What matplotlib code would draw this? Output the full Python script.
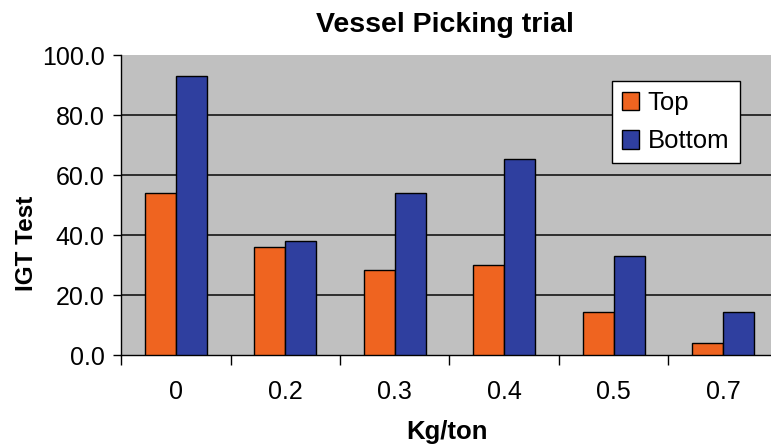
import numpy as np
import matplotlib
matplotlib.use("Agg")
import matplotlib.pyplot as plt
from matplotlib.ticker import FixedLocator

plt.rcParams['font.family'] = ['Liberation Sans', 'DejaVu Sans']

# data
kategori = ['0', '0.2', '0.3', '0.4', '0.5', '0.7']
top = [54.0, 36.0, 28.5, 30.0, 14.5, 4.0]
bottom = [93.0, 38.0, 54.0, 65.5, 33.0, 14.5]
seri = ['Top', 'Bottom']
warna = ['#EF6420', '#2F3F9F']

fig = plt.figure(figsize=(7.71, 4.45), dpi=100)
ax = fig.add_axes([0.157, 0.202, 0.852, 0.674])
ax.set_facecolor('#C0C0C0')

x = np.arange(len(kategori))
lebar = 0.285
ax.bar(x - lebar / 2, top, lebar, color=warna[0], edgecolor='black', linewidth=1, label=seri[0], zorder=3)
ax.bar(x + lebar / 2, bottom, lebar, color=warna[1], edgecolor='black', linewidth=1, label=seri[1], zorder=3)

ax.set_xlim(-0.5, len(kategori) - 0.5)
ax.set_ylim(0, 100)
ax.set_yticks(np.arange(0, 101, 20))
ax.set_yticklabels([f"{v:.1f}" for v in np.arange(0, 101, 20)])
ax.set_xticks(x)
ax.set_xticklabels(kategori)
ax.xaxis.set_minor_locator(FixedLocator(np.arange(-0.5, len(kategori), 1.0)))
ax.tick_params(axis='x', which='major', length=0, pad=18, labelsize=18)
ax.tick_params(axis='x', which='minor', length=7, width=1, direction='out')
ax.tick_params(axis='y', length=6, width=1, direction='out', labelsize=18, pad=6)

for v in [20, 40, 60, 80]:
    ax.axhline(v, color='#222222', linewidth=1.3, zorder=1)

for s in ['top', 'right']:
    ax.spines[s].set_visible(False)
ax.spines['left'].set_linewidth(1)
ax.spines['bottom'].set_linewidth(1)

# judul dan label sumbu
fig.text(0.577, 0.944, 'Vessel Picking trial', fontsize=20.5, fontweight='bold', ha='center', va='center')
fig.text(0.58, 0.029, 'Kg/ton', fontsize=18.5, fontweight='bold', ha='center', va='center')
fig.text(0.034, 0.454, 'IGT Test', fontsize=17.5, fontweight='bold', ha='center', va='center', rotation=90)

leg = ax.legend(loc='upper left', bbox_to_anchor=(0.747, 0.915), fontsize=18.5,
                frameon=True, fancybox=False, framealpha=1, handlelength=0.65, handleheight=0.75,
                handletextpad=0.35, borderpad=0.4, labelspacing=0.55, borderaxespad=0)
leg.get_frame().set_edgecolor('black')
leg.get_frame().set_linewidth(1)

fig.savefig('out.png', dpi=100)
